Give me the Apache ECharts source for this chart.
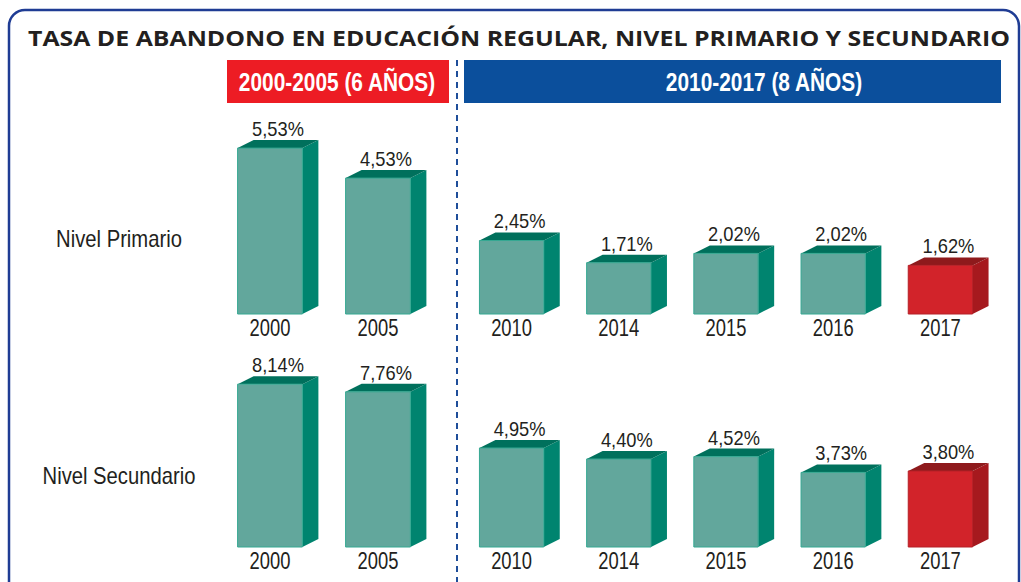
<!DOCTYPE html>
<html>
<head>
<meta charset="utf-8">
<title>Tasa de abandono</title>
<script src="https://cdn.jsdelivr.net/npm/echarts@6/dist/echarts.min.js"></script>
<style>
  html, body { margin: 0; padding: 0; background: #fff; }
  #chart { width: 1021px; height: 582px; }
</style>
</head>
<body>
<div id="chart"></div>
<script>
// datos (tasa de abandono, %)
var years1 = ['2000', '2005']
var years2 = ['2010', '2014', '2015', '2016', '2017']
var primario1 = [5.53, 4.53]
var primario2 = [2.45, 1.71, 2.02, 2.02, 1.62]
var secundario1 = [8.14, 7.76]
var secundario2 = [4.95, 4.40, 4.52, 3.73, 3.80]
var rowLabels = ['Nivel Primario', 'Nivel Secundario']
var periodLabels = ['2000-2005 (6 AÑOS)', '2010-2017 (8 AÑOS)']
var titleText = 'TASA DE ABANDONO EN EDUCACIÓN REGULAR, NIVEL PRIMARIO Y SECUNDARIO'

var sans = "'Liberation Sans', Arial, sans-serif"
var ink = '#231f20'

function fmt (v) {
  return v.toFixed(2).replace('.', ',') + '%'
}

// barra 3d: cara frontal + lateral + superior, con valor arriba y año abajo
function makeRender (years) {
  return function (params, api) {
    var idx = api.value(0)
    var v = api.value(1)
    var top = api.coord([idx, v])
    var base = api.coord([idx, 0])
    var w = api.size([1, 0])[0] * 0.6
    var x0 = top[0] - w / 2
    var x1 = top[0] + w / 2
    var ty = top[1]
    var by = base[1]
    var dx = 16
    var dy = -8
    var red = years[params.dataIndex] === '2017'
    var cFront = red ? '#d2232a' : '#62a79c'
    var cSide = red ? '#a6191e' : '#00846f'
    var cTop = red ? '#8e1a1c' : '#00705c'
    var cEdge = red ? '#b52026' : '#35a892'
    return {
      type: 'group',
      children: [
        {
          type: 'polygon',
          shape: { points: [[x1, ty], [x1 + dx, ty + dy], [x1 + dx, by + dy], [x1, by]] },
          style: { fill: cSide }
        },
        {
          type: 'polygon',
          shape: { points: [[x0, ty], [x0 + dx, ty + dy], [x1 + dx, ty + dy], [x1, ty]] },
          style: { fill: cTop }
        },
        {
          type: 'rect',
          shape: { x: x0, y: ty, width: w, height: by - ty },
          style: { fill: cFront, stroke: cEdge, lineWidth: 1 }
        },
        {
          type: 'text',
          x: top[0] + dx / 2,
          y: ty + dy - 1,
          scaleX: 0.87,
          style: {
            text: fmt(v),
            align: 'center',
            verticalAlign: 'bottom',
            fontSize: 21,
            fontFamily: sans,
            fill: ink
          }
        },
        {
          type: 'text',
          x: top[0],
          y: by + 2,
          scaleX: 0.8,
          style: {
            text: years[params.dataIndex],
            align: 'center',
            verticalAlign: 'top',
            fontSize: 23,
            fontFamily: sans,
            fill: ink
          }
        }
      ]
    }
  }
}

function toData (years, vals) {
  var out = []
  for (var i = 0; i < years.length; i++) {
    out.push([i, vals[i]])
  }
  return out
}

var grids = [
  { left: 216, width: 216, top: 134, height: 180 },
  { left: 458, width: 536, top: 134, height: 180 },
  { left: 216, width: 216, top: 367, height: 180 },
  { left: 458, width: 536, top: 367, height: 180 }
]
grids.forEach(function (g) {
  g.containLabel = false
  g.outerBoundsMode = 'none'
})

var xCats = [years1, years2, years1, years2]
var yMax = [6, 6, 9, 9]
var vals = [primario1, primario2, secundario1, secundario2]

var xAxis = []
var yAxis = []
var series = []
for (var k = 0; k < 4; k++) {
  xAxis.push({
    type: 'category',
    gridIndex: k,
    data: xCats[k],
    axisLine: { show: false },
    axisTick: { show: false },
    axisLabel: { show: false }
  })
  yAxis.push({
    type: 'value',
    gridIndex: k,
    min: 0,
    max: yMax[k],
    show: false
  })
  series.push({
    type: 'custom',
    xAxisIndex: k,
    yAxisIndex: k,
    renderItem: makeRender(xCats[k]),
    data: toData(xCats[k], vals[k]),
    clip: false
  })
}

function label (text, x, y, size, bold, color, sx, family) {
  return {
    type: 'text',
    x: x,
    y: y,
    scaleX: sx,
    style: {
      text: text,
      align: 'center',
      verticalAlign: 'middle',
      fontSize: size,
      fontWeight: bold ? 'bold' : 'normal',
      fontFamily: family || sans,
      fill: color
    }
  }
}

var option = {
  animation: false,
  grid: grids,
  xAxis: xAxis,
  yAxis: yAxis,
  series: series,
  graphic: [
    {
      type: 'rect',
      shape: { x: 9, y: 10, width: 1010, height: 600, r: 16 },
      style: { fill: 'none', stroke: '#1f3c94', lineWidth: 2.5 }
    },
    label(titleText, 519, 38, 22, true, ink, 1.13, "'Open Sans', sans-serif"),
    {
      type: 'rect',
      shape: { x: 227, y: 60, width: 222, height: 43 },
      style: { fill: '#ed1c24' }
    },
    label(periodLabels[0], 337, 82, 25, true, '#fff', 0.835),
    {
      type: 'rect',
      shape: { x: 464, y: 60, width: 537, height: 43 },
      style: { fill: '#0b4f9c' }
    },
    label(periodLabels[1], 764, 82, 25, true, '#fff', 0.835),
    {
      type: 'line',
      shape: { x1: 457, y1: 60, x2: 457, y2: 582 },
      style: { stroke: '#1f4e9a', lineWidth: 2, lineDash: [6, 5] }
    },
    label(rowLabels[0], 119, 239, 23, false, ink, 0.88),
    label(rowLabels[1], 119, 476, 23, false, ink, 0.88)
  ]
}

var chart = echarts.init(document.getElementById('chart'), null, { renderer: 'svg' })
chart.setOption(option)
</script>
</body>
</html>
